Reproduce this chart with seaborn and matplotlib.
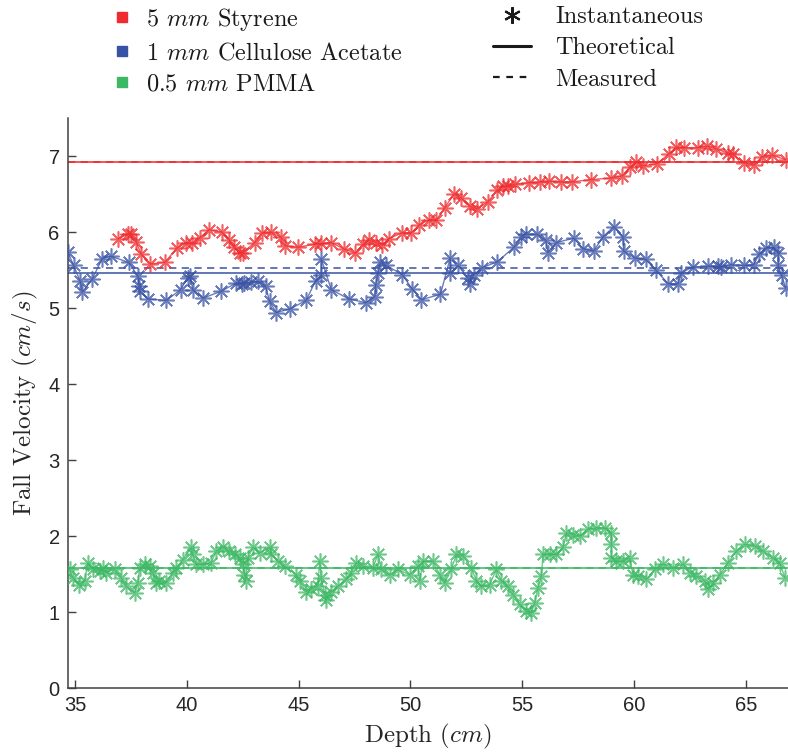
import numpy as np
import pandas as pd
import matplotlib
matplotlib.use("Agg")
import matplotlib.pyplot as plt
import seaborn as sns
from matplotlib.lines import Line2D

# ---------------- data ----------------
styrene_depth = [36.92, 37.37, 37.49, 37.74, 37.96, 38.37, 39.02, 39.56, 39.95, 40.24, 40.57, 40.99,
                 41.57, 41.91, 42.11, 42.36, 42.51, 43.03, 43.37, 43.75, 44.22, 44.40, 44.97, 45.72,
                 46.01, 46.46, 47.01, 47.53, 47.88, 48.13, 48.44, 48.74, 49.02, 49.62, 50.04, 50.38,
                 50.83, 51.16, 51.53, 51.95, 52.28, 52.65, 52.98, 53.47, 53.88, 54.14, 54.36, 54.69,
                 55.30, 55.81, 56.20, 56.75, 57.24, 58.06, 58.98, 59.48, 59.80, 60.10, 60.40, 61.03,
                 61.56, 61.89, 62.22, 62.86, 63.26, 63.68, 64.20, 64.42, 64.92, 65.35, 65.72, 66.18,
                 66.78]
styrene_vel = [5.91, 5.97, 5.98, 5.87, 5.71, 5.58, 5.60, 5.79, 5.86, 5.85, 5.92, 6.03,
               6.00, 5.89, 5.80, 5.72, 5.73, 5.86, 5.99, 6.00, 5.93, 5.82, 5.80, 5.84,
               5.85, 5.86, 5.78, 5.72, 5.84, 5.89, 5.86, 5.83, 5.91, 5.99, 5.99, 6.09,
               6.16, 6.16, 6.32, 6.50, 6.45, 6.34, 6.30, 6.40, 6.55, 6.60, 6.60, 6.63,
               6.65, 6.66, 6.67, 6.66, 6.66, 6.69, 6.71, 6.74, 6.85, 6.92, 6.87, 6.90,
               7.03, 7.12, 7.11, 7.11, 7.13, 7.09, 7.04, 7.02, 6.91, 6.88, 6.99, 7.01,
               6.95]

acetate_depth = [34.68, 34.94, 35.24, 35.33, 35.77, 36.22, 36.62, 37.41, 37.81, 37.86, 37.89, 38.26,
                 39.08, 39.72, 40.05, 40.15, 40.27, 40.72, 41.54, 42.21, 42.48, 42.58, 42.88, 43.18,
                 43.52, 43.70, 44.00, 44.63, 45.34, 45.76, 46.01, 46.01, 46.46, 47.25, 48.00, 48.40,
                 48.44, 48.55, 48.65, 48.92, 49.63, 50.08, 50.49, 51.34, 51.78, 51.78, 52.13, 52.57,
                 52.68, 52.83, 53.21, 53.89, 54.63, 54.96, 55.15, 55.66, 56.05, 56.15, 56.52, 57.30,
                 57.72, 58.19, 58.62, 59.09, 59.50, 59.53, 60.03, 60.52, 60.97, 61.52, 61.96, 62.11,
                 62.61, 63.31, 63.75, 63.90, 64.32, 64.92, 65.35, 65.59, 65.91, 66.24, 66.44, 66.44,
                 66.59, 66.78]
acetate_vel = [5.74, 5.56, 5.35, 5.21, 5.38, 5.65, 5.68, 5.60, 5.42, 5.29, 5.22, 5.12,
               5.10, 5.24, 5.40, 5.42, 5.24, 5.13, 5.22, 5.33, 5.32, 5.33, 5.34, 5.35,
               5.29, 5.09, 4.94, 4.99, 5.10, 5.36, 5.43, 5.65, 5.24, 5.12, 5.07, 5.15,
               5.30, 5.46, 5.60, 5.56, 5.44, 5.25, 5.11, 5.18, 5.66, 5.46, 5.56, 5.39,
               5.32, 5.44, 5.53, 5.61, 5.80, 5.94, 5.97, 5.97, 5.89, 5.73, 5.86, 5.92,
               5.78, 5.75, 5.94, 6.07, 5.94, 5.75, 5.66, 5.64, 5.50, 5.32, 5.32, 5.46,
               5.54, 5.55, 5.55, 5.54, 5.57, 5.56, 5.57, 5.71, 5.79, 5.80, 5.72, 5.56,
               5.43, 5.26]

pmma_depth = [34.76, 34.91, 35.20, 35.43, 35.58, 35.80, 36.10, 36.25, 36.40, 36.77, 37.07, 37.29,
              37.67, 37.81, 37.89, 38.11, 38.34, 38.49, 38.63, 38.78, 39.05, 39.38, 39.53, 39.83,
              40.20, 40.27, 40.42, 40.72, 41.09, 41.32, 41.62, 41.91, 42.14, 42.36, 42.51, 42.58,
              42.63, 42.73, 42.96, 43.26, 43.70, 43.78, 44.07, 44.37, 44.90, 45.04, 45.34, 45.57,
              45.86, 45.94, 46.01, 46.16, 46.24, 46.46, 46.76, 47.13, 47.35, 47.58, 47.88, 48.32,
              48.55, 48.70, 49.07, 49.44, 49.96, 50.34, 50.41, 50.56, 51.01, 51.31, 51.53, 51.83,
              52.05, 52.35, 52.72, 52.95, 53.17, 53.54, 53.84, 54.06, 54.36, 54.59, 54.88, 55.18,
              55.41, 55.55, 55.70, 55.85, 55.93, 56.22, 56.52, 56.82, 56.97, 57.27, 57.57, 57.94,
              58.31, 58.68, 58.98, 58.98, 58.98, 59.21, 59.50, 59.80, 59.95, 60.18, 60.55, 60.92,
              61.29, 61.74, 62.19, 62.49, 62.78, 63.16, 63.31, 63.53, 63.83, 64.20, 64.57, 64.95,
              65.39, 65.77, 66.21, 66.51, 66.74]
pmma_vel = [1.57, 1.45, 1.36, 1.41, 1.65, 1.56, 1.54, 1.58, 1.52, 1.56, 1.45, 1.34,
            1.25, 1.38, 1.58, 1.63, 1.60, 1.52, 1.38, 1.41, 1.38, 1.52, 1.58, 1.69,
            1.85, 1.76, 1.63, 1.63, 1.65, 1.80, 1.85, 1.80, 1.76, 1.71, 1.63, 1.49,
            1.41, 1.71, 1.85, 1.78, 1.85, 1.76, 1.67, 1.60, 1.49, 1.41, 1.27, 1.30,
            1.34, 1.67, 1.45, 1.23, 1.16, 1.27, 1.34, 1.43, 1.52, 1.65, 1.60, 1.58,
            1.76, 1.56, 1.49, 1.56, 1.49, 1.60, 1.41, 1.67, 1.67, 1.49, 1.38, 1.56,
            1.76, 1.74, 1.58, 1.41, 1.34, 1.36, 1.56, 1.41, 1.34, 1.23, 1.10, 1.01,
            0.99, 1.12, 1.32, 1.47, 1.76, 1.76, 1.76, 1.85, 2.04, 2.02, 2.00, 2.09,
            2.11, 2.11, 2.04, 1.89, 1.71, 1.67, 1.67, 1.71, 1.49, 1.47, 1.43, 1.56,
            1.63, 1.58, 1.63, 1.52, 1.47, 1.41, 1.30, 1.38, 1.49, 1.65, 1.80, 1.89,
            1.87, 1.80, 1.71, 1.65, 1.45]

series_labels = [r"5 $mm$ Styrene", r"1 $mm$ Cellulose Acetate", r"0.5 $mm$ PMMA"]
series_colors = ["#EE2B2E", "#3953A4", "#3DB865"]
theoretical = [6.92, 5.465, 1.575]
measured = [6.925, 5.52, 1.585]
style_labels = ["Instantaneous", "Theoretical", "Measured"]
x_ticks = [35, 40, 45, 50, 55, 60, 65]
y_ticks = [0, 1, 2, 3, 4, 5, 6, 7]

# ---------------- style ----------------
sns.set_theme(style="white")
plt.rcParams["font.family"] = ["cmr10", "DejaVu Serif"]
plt.rcParams["mathtext.fontset"] = "cm"
plt.rcParams["axes.formatter.use_mathtext"] = True

fig = plt.figure(figsize=(7.88, 7.55), dpi=100)
ax = fig.add_axes([0.0863, 0.0887, 0.914, 0.755])

star = (8, 2, 0)
data_sets = [(styrene_depth, styrene_vel), (acetate_depth, acetate_vel), (pmma_depth, pmma_vel)]
for (xs, ys), col, th, me in zip(data_sets, series_colors, theoretical, measured):
    df = pd.DataFrame({"depth": xs, "vel": ys})
    sns.lineplot(data=df, x="depth", y="vel", sort=False, estimator=None, ax=ax,
                 color=col, lw=1.0, alpha=0.75, marker=star, markersize=11.5,
                 markeredgewidth=1.15, markeredgecolor=col, zorder=3)
    ax.axhline(th, color=col, lw=1.3, alpha=0.85, zorder=2)
    ax.axhline(me, color=col, lw=1.3, ls=(0, (4, 3)), alpha=0.85, zorder=2)

ax.set_xlim(34.69, 66.89)
ax.set_ylim(0, 7.5)
ax.set_xticks(x_ticks)
ax.set_yticks(y_ticks)
ax.set_xticklabels([str(t) for t in x_ticks], family="Liberation Sans", fontsize=14.5)
ax.set_yticklabels([str(t) for t in y_ticks], family="Liberation Sans", fontsize=14.5)
ax.tick_params(direction="in", length=6, width=1.0, color="#404040", labelcolor="#262626",
               bottom=True, left=True, pad=6)
for s in ["top", "right"]:
    ax.spines[s].set_visible(False)
for s in ["left", "bottom"]:
    ax.spines[s].set_color("#404040")
    ax.spines[s].set_linewidth(1.1)

ax.set_xlabel(r"Depth $(cm)$", fontsize=18, color="#262626", labelpad=5)
ax.set_ylabel(r"Fall Velocity $(cm/s)$", fontsize=18, color="#262626", labelpad=6)

# legends
h1 = [Line2D([], [], ls="none", marker="s", ms=7.5, color=c) for c in series_colors]
leg1 = fig.legend(h1, series_labels, loc="upper left", bbox_to_anchor=(0.1267, 1.005),
                  frameon=False, fontsize=17.5, handlelength=1.0, handletextpad=0.5,
                  labelspacing=0.38, borderaxespad=0)
h2 = [Line2D([], [], ls="none", marker=(6, 2, 0), ms=12, mew=1.5, color="k"),
      Line2D([], [], ls="-", lw=2.2, color="k"),
      Line2D([], [], ls=(0, (3, 3)), lw=1.6, color="k")]
leg2 = fig.legend(h2, style_labels, loc="upper left", bbox_to_anchor=(0.6137, 1.005),
                  frameon=False, fontsize=17.5, handlelength=1.55, handletextpad=1.0,
                  labelspacing=0.38, borderaxespad=0)
for t in list(leg1.get_texts()) + list(leg2.get_texts()):
    t.set_color("#1a1a1a")

fig.savefig("out.png", dpi=100)
